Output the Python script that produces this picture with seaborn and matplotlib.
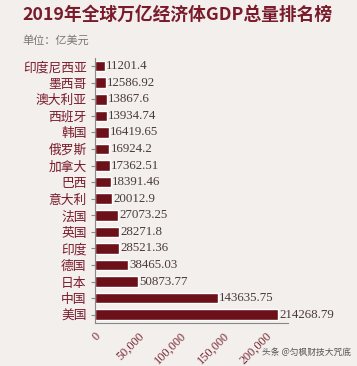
#!/usr/bin/env python3
# -*- coding: utf-8 -*-
"""
Horizontal bar chart of 2019 GDP for trillion-dollar economies.
Saves out.png (357x366).
"""
import pandas as pd
import matplotlib
matplotlib.use("Agg")
import matplotlib.pyplot as plt
import seaborn as sns

# data (unit: 100 million USD)
countries = ['印度尼西亚', '墨西哥', '澳大利亚', '西班牙', '韩国', '俄罗斯', '加拿大', '巴西',
             '意大利', '法国', '英国', '印度', '德国', '日本', '中国', '美国']
gdp = [11201.4, 12586.92, 13867.6, 13934.74, 16419.65, 16924.2, 17362.51, 18391.46,
       20012.9, 27073.25, 28271.8, 28521.36, 38465.03, 50873.77, 143635.75, 214268.79]
value_labels = ['11201.4', '12586.92', '13867.6', '13934.74', '16419.65', '16924.2',
                '17362.51', '18391.46', '20012.9', '27073.25', '28271.8', '28521.36',
                '38465.03', '50873.77', '143635.75', '214268.79']
xticks = [0, 50000, 100000, 150000, 200000]
xtick_labels = ['0', '50,000', '100,000', '150,000', '200,000']

BG = '#f2efec'
BAR = '#6c1019'
DARKRED = '#7a1b2b'
CJK = ['Noto Sans CJK SC', 'DejaVu Sans']
SERIF = ['Liberation Serif', 'DejaVu Serif']


def main():
    sns.set_style('white')
    plt.rcParams['font.family'] = CJK

    df = pd.DataFrame({'country': countries, 'gdp': gdp})

    fig = plt.figure(figsize=(3.57, 3.66), dpi=100, facecolor=BG)
    ax = fig.add_axes([0.266, 0.1175, 0.541, 0.7245])
    ax.set_facecolor(BG)

    sns.barplot(data=df, x='gdp', y='country', orient='h', color=BAR,
                saturation=1, width=0.64, ax=ax)

    # value labels at bar ends
    for i, (v, lab) in enumerate(zip(gdp, value_labels)):
        ax.text(v + 1500, i, lab, va='center', ha='left', fontsize=9.3,
                family=SERIF, color='#4a3a3a')

    ax.set_xlim(0, 226000)
    ax.set_ylim(len(countries) - 0.5, -0.5)
    ax.set_xticks(xticks)
    ax.set_xticklabels(xtick_labels, rotation=45, ha='right', rotation_mode='anchor',
                       family=SERIF, fontsize=8.8, color='#7a2a36')
    ax.tick_params(axis='x', length=3, color='#888888', pad=2)
    ax.tick_params(axis='y', length=3, color='#888888', pad=3, left=True)
    for lab in ax.get_yticklabels():
        lab.set_color(DARKRED)
        lab.set_fontsize(9.2)
    ax.set_xlabel('')
    ax.set_ylabel('')

    for side in ['top', 'right']:
        ax.spines[side].set_visible(False)
    for side in ['left', 'bottom']:
        ax.spines[side].set_color('#888888')
        ax.spines[side].set_linewidth(0.8)

    # titles
    fig.text(0.062, 0.958, '2019年全球万亿经济体GDP总量排名榜', fontsize=12.8,
             fontweight='bold', color=DARKRED, va='center', ha='left')
    fig.text(0.062, 0.89, '单位：亿美元', fontsize=8, color='#777777',
             va='center', ha='left')

    # watermark
    fig.text(0.735, 0.038, '头条 @匀枫财技大咒底', fontsize=6.3, color='#555555',
             va='center', ha='left')

    fig.savefig('out.png', dpi=100, facecolor=BG)


if __name__ == '__main__':
    main()
